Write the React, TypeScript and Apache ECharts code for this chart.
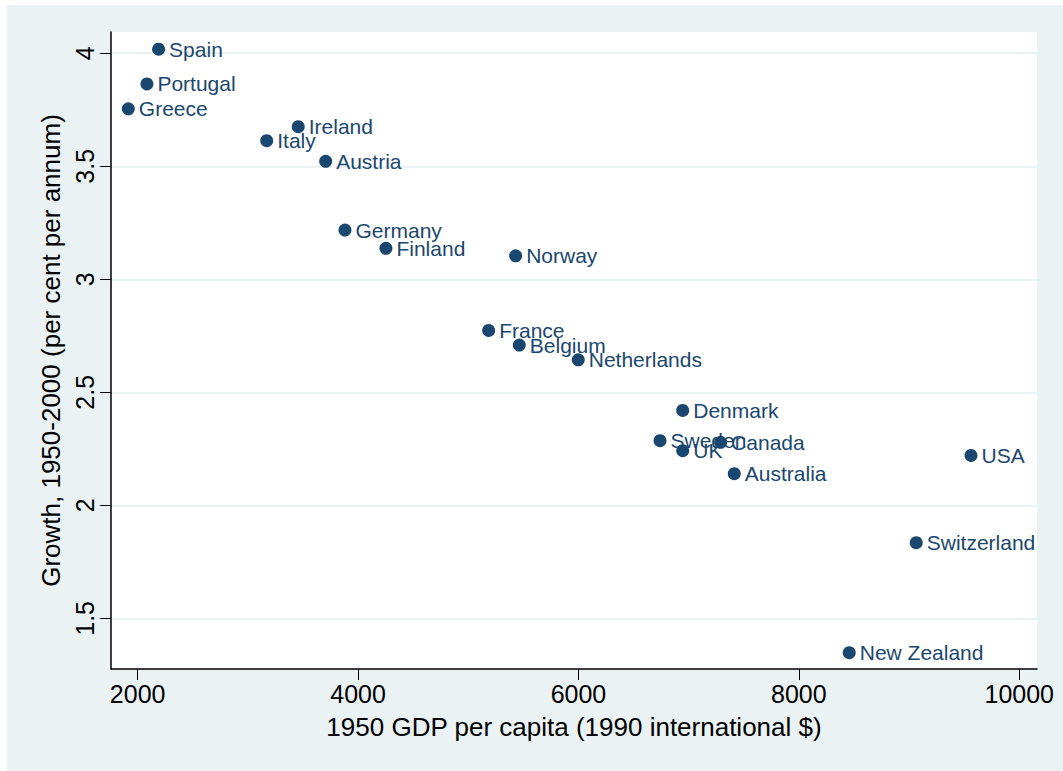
import React, { useEffect, useRef } from "react";
import * as echarts from "echarts";

const countries = [
  "Spain", "Portugal", "Greece", "Ireland", "Italy", "Austria", "Germany", "Finland",
  "Norway", "France", "Belgium", "Netherlands", "Denmark", "Sweden", "UK", "Canada",
  "Australia", "USA", "Switzerland", "New Zealand",
];
const gdp1950 = [
  2190, 2084, 1915, 3457, 3171, 3706, 3881, 4253,
  5430, 5185, 5463, 5998, 6946, 6740, 6946, 7290,
  7414, 9562, 9065, 8457,
];
const growth = [
  4.018, 3.864, 3.754, 3.675, 3.613, 3.522, 3.218, 3.137,
  3.104, 2.774, 2.709, 2.644, 2.42, 2.286, 2.242, 2.279,
  2.14, 2.221, 1.835, 1.348,
];
const xTicks = [2000, 4000, 6000, 8000, 10000];
const yTicks = [1.5, 2, 2.5, 3, 3.5, 4];

const NAVY = "#1a476f";
const BG = "#eaf2f3";
const FONT = "Liberation Sans, Helvetica, Arial, sans-serif";

export default function App() {
  const ref = useRef<HTMLDivElement>(null);
  useEffect(() => {
    if (!ref.current) return;
    const chart = echarts.init(ref.current, null, { renderer: "svg" });
    const data = countries.map((name, i) => ({ name, value: [gdp1950[i], growth[i]] }));
    chart.setOption({
      animation: false,
      backgroundColor: BG,
      textStyle: { fontFamily: FONT },
      grid: {
        left: 104,
        top: 27,
        right: 26,
        bottom: 102,
        show: true,
        backgroundColor: "#ffffff",
        borderWidth: 0,
      },
      xAxis: {
        type: "value",
        min: 1758,
        max: 10161,
        name: "1950 GDP per capita (1990 international $)",
        nameLocation: "middle",
        nameGap: 45,
        nameTextStyle: { fontSize: 26, color: "#000", fontFamily: FONT },
        axisLine: { show: true, onZero: false, lineStyle: { color: "#000", width: 1.5 } },
        axisTick: { show: true, length: 11, lineStyle: { color: "#000", width: 1 }, customValues: xTicks },
        axisLabel: {
          fontSize: 25,
          color: "#000",
          margin: 12,
          fontFamily: FONT,
          customValues: xTicks,
          formatter: (v: number) => String(v),
        },
        splitLine: { show: false },
      },
      yAxis: {
        type: "value",
        min: 1.276,
        max: 4.094,
        name: "Growth, 1950-2000 (per cent per annum)",
        nameLocation: "middle",
        nameGap: 46,
        nameTextStyle: { fontSize: 26, color: "#000", fontFamily: FONT },
        axisLine: { show: true, onZero: false, lineStyle: { color: "#000", width: 1.5 } },
        axisTick: { show: true, length: 11, lineStyle: { color: "#000", width: 1 }, customValues: yTicks },
        axisLabel: {
          fontSize: 25,
          color: "#000",
          margin: 14,
          rotate: 90,
          fontFamily: FONT,
          customValues: yTicks,
          formatter: (v: number) => String(v),
        },
        splitLine: { show: true, lineStyle: { color: BG, width: 2 } },
      },
      series: [
        {
          type: "scatter",
          data,
          symbol: "circle",
          symbolSize: 13,
          itemStyle: { color: NAVY, opacity: 1 },
          label: {
            show: true,
            position: "right",
            distance: 4,
            formatter: (p: any) => p.name,
            color: NAVY,
            fontSize: 21,
            fontFamily: FONT,
          },
        },
      ],
    });
    return () => chart.dispose();
  }, []);
  return (
    <div
      ref={ref}
      style={{ position: "absolute", left: 7, top: 5, width: 1056, height: 766 }}
    />
  );
}
